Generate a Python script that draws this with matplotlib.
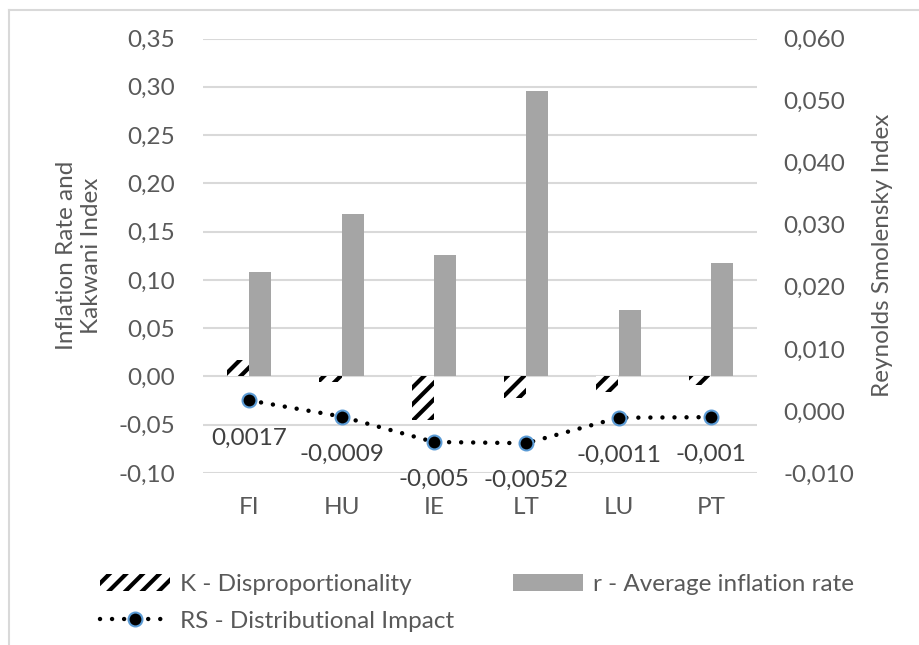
import matplotlib
matplotlib.use("Agg")
import matplotlib.pyplot as plt
from matplotlib.lines import Line2D
from matplotlib.patches import Patch
from matplotlib.ticker import FuncFormatter
import numpy as np

# Data
countries = ["FI", "HU", "IE", "LT", "LU", "PT"]
k_disprop = [0.017, -0.006, -0.045, -0.022, -0.016, -0.009]
r_inflation = [0.108, 0.168, 0.126, 0.296, 0.069, 0.118]
rs_impact = [0.0017, -0.0009, -0.005, -0.0052, -0.0011, -0.001]
rs_labels = ["0,0017", "-0,0009", "-0,005", "-0,0052", "-0,0011", "-0,001"]

plt.rcParams['font.family'] = ['Lato', 'DejaVu Sans']
plt.rcParams['hatch.linewidth'] = 3.0
plt.rcParams['hatch.color'] = 'black'

txt_color = '#595959'
grid_color = '#D9D9D9'
bar_gray = '#A5A5A5'
fs = 17.5

W, H = 919, 645
fig = plt.figure(figsize=(W / 100, H / 100), dpi=100)

# chart area border (only left/top visible in the crop)
fig.add_artist(Line2D([8.5 / W, 8.5 / W], [0, 1 - 9.5 / H], color=grid_color, lw=1.5))
fig.add_artist(Line2D([8.5 / W, 1], [1 - 9.5 / H, 1 - 9.5 / H], color=grid_color, lw=1.5))

left, right = 203, 757
top, bottom = 38.5, 473
ax = fig.add_axes([left / W, (H - bottom) / H, (right - left) / W, (bottom - top) / H])
ax2 = ax.twinx()

x = np.arange(len(countries))
bw = 0.24
ax.bar(x - bw / 2, k_disprop, bw, color='white', edgecolor='black', hatch='//', lw=0, zorder=2)
ax.bar(x + bw / 2, r_inflation, bw, color=bar_gray, lw=0, zorder=2)

ax.set_ylim(-0.10, 0.35)
ax.set_yticks(np.arange(-0.10, 0.351, 0.05))
ax.set_xlim(-0.5, len(countries) - 0.5)
ax.set_xticks(x)
ax.set_xticklabels(countries)
ax.yaxis.set_major_formatter(FuncFormatter(lambda v, p: f"{v:.2f}".replace('.', ',').replace('-0,00', '0,00')))
ax.grid(axis='y', color=grid_color, lw=1.5, zorder=0)
ax.set_axisbelow(True)

ax2.plot(x, rs_impact, color='black', lw=3.2, dashes=(0.01, 2.7), dash_capstyle='round',
         marker='o', markersize=10, markerfacecolor='black', markeredgecolor='#5B9BD5',
         markeredgewidth=1.5, zorder=5)
ax2.set_ylim(-0.010, 0.060)
ax2.set_yticks(np.arange(-0.010, 0.0601, 0.010))
ax2.yaxis.set_major_formatter(FuncFormatter(lambda v, p: f"{v:.3f}".replace('.', ',').replace('-0,000', '0,000')))

for xi, yi, lab in zip(x, rs_impact, rs_labels):
    ax2.annotate(lab, (xi, yi), xytext=(0, -27), textcoords='offset points',
                 ha='center', va='center', fontsize=fs, color='#404040')

for a in (ax, ax2):
    for s in a.spines.values():
        s.set_visible(False)
    a.tick_params(length=0, labelsize=fs, labelcolor=txt_color)
ax.tick_params(axis='y', pad=20)
ax.tick_params(axis='x', pad=17)
ax2.tick_params(axis='y', pad=19)

ax.set_ylabel("Inflation Rate and\nKakwani Index", fontsize=fs, color=txt_color, labelpad=12)
ax2.set_ylabel("Reynolds Smolensky Index", fontsize=fs, color=txt_color, labelpad=13)

handles = [
    Patch(facecolor='white', edgecolor='black', hatch='//', lw=0, label='K - Disproportionality'),
    Line2D([], [], color='black', lw=3.2, dashes=(0.01, 2.7), dash_capstyle='round',
           marker='o', markersize=10, markerfacecolor='black', markeredgecolor='#5B9BD5',
           markeredgewidth=1.5, label='RS - Distributional Impact'),
    Patch(facecolor=bar_gray, lw=0, label='r - Average inflation rate'),
]
fig.legend(handles=handles, ncol=2, loc='center left', bbox_to_anchor=(100 / W, (H - 603) / H),
           frameon=False, fontsize=fs, labelcolor=txt_color, handlelength=2.9,
           handletextpad=0.4, columnspacing=2.4, labelspacing=0.62, borderpad=0, borderaxespad=0)

fig.savefig('out.png', dpi=100, facecolor='white')
